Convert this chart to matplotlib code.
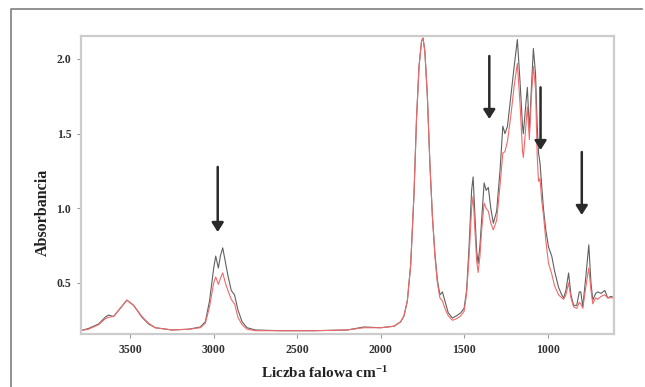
import matplotlib
matplotlib.use("Agg")
import matplotlib.pyplot as plt
from matplotlib.lines import Line2D

plt.rcParams['font.family'] = ['Liberation Serif', 'DejaVu Serif']
plt.rcParams['mathtext.fontset'] = 'custom'
plt.rcParams['mathtext.rm'] = 'Liberation Serif:bold'
plt.rcParams['mathtext.it'] = 'Liberation Serif:bold'
plt.rcParams['mathtext.bf'] = 'Liberation Serif:bold'

# wavenumber (cm-1) and absorbance
wavenumber = [3800, 3750, 3690, 3650, 3630, 3600, 3560, 3520, 3480, 3430, 3390, 3350,
              3250, 3150, 3080, 3050, 3025, 3000, 2988, 2972, 2960, 2946, 2930, 2915,
              2895, 2875, 2855, 2830, 2800, 2750, 2600, 2400, 2200, 2100, 2000, 1920,
              1880, 1860, 1840, 1820, 1800, 1785, 1770, 1755, 1746, 1735, 1720, 1705,
              1690, 1675, 1660, 1645, 1630, 1615, 1595, 1570, 1545, 1520, 1500, 1485,
              1470, 1455, 1446, 1435, 1425, 1416, 1405, 1395, 1380, 1368, 1355, 1340,
              1325, 1305, 1285, 1268, 1255, 1240, 1220, 1200, 1181, 1165, 1150, 1145,
              1130, 1121, 1109, 1097, 1085, 1072, 1062, 1054, 1045, 1035, 1024, 1010,
              994, 975, 958, 934, 915, 904, 890, 874, 860, 844, 825, 810,
              801, 789, 770, 753, 740, 729, 712, 699, 680, 657, 640, 620, 600]

abs_black = [0.18, 0.195, 0.225, 0.27, 0.285, 0.275, 0.33, 0.385, 0.35, 0.27, 0.225, 0.20,
             0.185, 0.19, 0.205, 0.24, 0.38, 0.60, 0.68, 0.60, 0.68, 0.735, 0.64, 0.55,
             0.45, 0.42, 0.32, 0.24, 0.20, 0.185, 0.18, 0.18, 0.185, 0.205, 0.20, 0.21,
             0.24, 0.28, 0.38, 0.62, 1.10, 1.60, 1.95, 2.12, 2.14, 2.05, 1.75, 1.30,
             0.95, 0.70, 0.52, 0.42, 0.44, 0.38, 0.30, 0.265, 0.28, 0.30, 0.33, 0.45,
             0.75, 1.12, 1.21, 0.95, 0.72, 0.63, 0.75, 0.92, 1.17, 1.12, 1.14, 1.00,
             0.90, 0.98, 1.25, 1.55, 1.50, 1.55, 1.75, 1.95, 2.13, 1.85, 1.55, 1.50,
             1.70, 1.81, 1.52, 1.80, 2.07, 1.90, 1.55, 1.37, 1.30, 1.15, 0.99, 0.85,
             0.74, 0.68, 0.58, 0.47, 0.42, 0.40, 0.45, 0.567, 0.42, 0.35, 0.35, 0.44,
             0.44, 0.34, 0.55, 0.755, 0.50, 0.385, 0.43, 0.44, 0.43, 0.45, 0.40, 0.41, 0.40]

abs_red = [0.18, 0.19, 0.22, 0.26, 0.27, 0.275, 0.33, 0.385, 0.35, 0.275, 0.23, 0.20,
           0.185, 0.19, 0.20, 0.23, 0.34, 0.50, 0.54, 0.49, 0.53, 0.567, 0.50, 0.45,
           0.39, 0.36, 0.27, 0.22, 0.19, 0.18, 0.18, 0.18, 0.185, 0.20, 0.20, 0.21,
           0.24, 0.28, 0.38, 0.62, 1.10, 1.60, 1.95, 2.12, 2.14, 2.05, 1.75, 1.30,
           0.95, 0.68, 0.50, 0.40, 0.38, 0.33, 0.28, 0.25, 0.26, 0.28, 0.31, 0.43,
           0.68, 1.00, 1.08, 0.85, 0.65, 0.57, 0.68, 0.85, 1.035, 1.00, 0.98, 0.90,
           0.855, 0.92, 1.15, 1.37, 1.38, 1.45, 1.62, 1.82, 1.97, 1.70, 1.38, 1.34,
           1.55, 1.68, 1.46, 1.75, 1.95, 1.80, 1.35, 1.18, 1.20, 1.05, 0.95, 0.78,
           0.63, 0.56, 0.48, 0.42, 0.40, 0.39, 0.42, 0.50, 0.40, 0.34, 0.33, 0.37,
           0.36, 0.33, 0.48, 0.60, 0.45, 0.36, 0.40, 0.39, 0.41, 0.42, 0.40, 0.40, 0.40]

# arrows: wavenumber, tail absorbance, head absorbance
arrow_x = [2976, 1349, 1042, 795]
arrow_top = [1.277, 2.02, 1.81, 1.377]
arrow_tip = [0.841, 1.598, 1.39, 0.955]

xticks = [3500, 3000, 2500, 2000, 1500, 1000]
yticks = [0.5, 1.0, 1.5, 2.0]

fig = plt.figure(figsize=(6.45, 3.87), dpi=100)
ax = fig.add_axes([81 / 645, 1 - 334 / 387, 533 / 645, 298 / 387])

ax.plot(wavenumber, abs_black, color='#606060', lw=0.8)
ax.plot(wavenumber, abs_red, color='#f06a6a', lw=0.8)

for x, y0, y1 in zip(arrow_x, arrow_top, arrow_tip):
    ax.annotate('', xy=(x, y1), xytext=(x, y0),
                arrowprops=dict(arrowstyle='-|>,head_width=0.35,head_length=0.55',
                                color='#2a2a2a', lw=1.8, shrinkA=0, shrinkB=0))

ax.set_xlim(3795, 602)
ax.set_ylim(0.158, 2.154)
ax.set_xticks(xticks)
ax.set_yticks(yticks)
ax.set_xticklabels([str(t) for t in xticks], fontweight='bold', fontsize=8.5)
ax.set_yticklabels(['%.1f' % t for t in yticks], fontweight='bold', fontsize=8.5)
ax.tick_params(length=3, width=0.8, color='#999999', labelcolor='#333333', pad=4)

for s in ax.spines.values():
    s.set_color('#cccccc')
    s.set_linewidth(1.6)

fig.text(43 / 645, 1 - 212 / 387, 'Absorbancia', rotation=90, ha='center', va='center',
         fontsize=11.5, fontweight='bold', color='#222222')
fig.text(325 / 645, 1 - 373 / 387, 'Liczba falowa cm$^{-1}$', ha='center', va='center',
         fontsize=11, fontweight='bold', color='#222222')

# outer frame
fig.add_artist(Line2D([11 / 645, 11 / 645, 642 / 645], [0, 1 - 9 / 387, 1 - 9 / 387],
                      transform=fig.transFigure, color='#888888', lw=1.3))

fig.savefig('out.png', dpi=100)
